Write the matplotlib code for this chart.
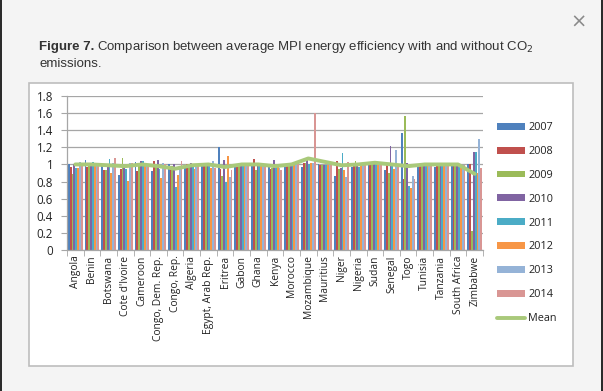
import numpy as np
import matplotlib.pyplot as plt
from matplotlib.patches import Rectangle

# --- data ---
countries = ["Angola", "Benin", "Botswana", "Cote d'Ivoire", "Cameroon",
             "Congo, Dem. Rep.", "Congo, Rep.", "Algeria", "Egypt, Arab Rep.",
             "Eritrea", "Gabon", "Ghana", "Kenya", "Morocco", "Mozambique",
             "Mauritius", "Niger", "Nigeria", "Sudan", "Senegal", "Togo",
             "Tunisia", "Tanzania", "South Africa", "Zimbabwe"]
years = ["2007", "2008", "2009", "2010", "2011", "2012", "2013", "2014"]

v2007 = [1.00, 1.05, 0.98, 0.88, 1.03, 0.92, 1.00, 0.96, 0.98, 1.20, 0.97, 0.99, 0.97,
         0.98, 0.97, 1.01, 0.87, 0.97, 1.02, 0.93, 1.37, 1.00, 0.97, 1.00, 1.00]
v2008 = [0.97, 0.97, 0.94, 0.95, 0.92, 1.04, 0.97, 1.01, 0.99, 0.95, 1.00, 1.06, 0.95,
         0.98, 1.02, 0.99, 1.04, 0.98, 1.03, 0.99, 0.83, 1.00, 1.00, 1.00, 1.00]
v2009 = [0.89, 1.00, 0.93, 1.08, 1.02, 0.97, 0.98, 0.97, 1.00, 0.86, 0.98, 0.93, 0.96,
         0.98, 1.02, 0.99, 0.95, 1.04, 1.00, 0.90, 1.57, 1.00, 1.00, 1.00, 0.22]
v2010 = [1.00, 1.00, 1.00, 0.96, 1.04, 1.05, 1.00, 1.02, 1.02, 1.05, 1.00, 1.00, 1.05,
         0.98, 1.05, 0.99, 0.96, 0.99, 1.03, 1.21, 1.02, 1.00, 1.00, 1.00, 1.15]
v2011 = [0.96, 1.03, 1.06, 0.95, 1.04, 0.95, 0.74, 0.99, 1.02, 0.80, 0.99, 1.02, 0.97,
         0.98, 1.00, 0.99, 1.13, 0.97, 1.04, 0.99, 0.75, 1.01, 1.00, 0.99, 1.14]
v2012 = [0.96, 0.99, 0.90, 0.81, 1.00, 0.84, 0.88, 0.95, 0.96, 1.10, 0.98, 0.98, 1.01,
         0.99, 1.02, 0.99, 0.93, 0.98, 1.00, 0.95, 0.72, 1.00, 1.01, 0.99, 0.90]
v2013 = [1.03, 1.00, 1.02, 1.02, 1.00, 1.02, 0.95, 1.00, 1.04, 0.85, 1.00, 1.00, 0.96,
         1.00, 1.02, 0.99, 0.85, 1.02, 1.00, 1.17, 0.87, 1.00, 1.02, 0.99, 1.30]
v2014 = [0.98, 0.99, 1.08, 1.02, 1.01, 1.01, 1.04, 0.98, 0.96, 0.93, 1.00, 0.98, 0.93,
         1.02, 1.60, 0.99, 1.03, 0.99, 1.00, 0.99, 0.83, 1.00, 0.99, 0.99, 0.96]
mean_vals = [1.00, 1.00, 0.99, 0.98, 1.00, 0.98, 0.95, 0.99, 1.00, 0.97, 1.00, 1.00, 0.98,
             1.00, 1.07, 1.03, 0.99, 1.00, 1.02, 1.00, 0.98, 1.00, 1.00, 1.00, 0.89]

series = [v2007, v2008, v2009, v2010, v2011, v2012, v2013, v2014]
colors = ['#4F81BD', '#C0504D', '#9BBB59', '#8064A2', '#4BACC6', '#F79646', '#95B3D7', '#D99694']

W, H = 603, 391
fig = plt.figure(figsize=(W / 100, H / 100), dpi=100)
fig.patch.set_facecolor('#f4f4f4')

# page frame pieces
fig.add_artist(Rectangle((0, 0), 1.5 / W, 1, transform=fig.transFigure, color='#2b2b2b', lw=0))
fig.add_artist(Rectangle((1 - 2.5 / W, 0), 2.5 / W, 1, transform=fig.transFigure, color='#2b2b2b', lw=0))
fig.add_artist(Rectangle((29 / W, 1 - 366 / H), (573 - 29) / W, (366 - 83) / H,
                         transform=fig.transFigure, facecolor='white', edgecolor='#bdbdbd',
                         lw=1.2, zorder=-10))
fig.text(579 / W, 1 - 22 / H, '\u00d7', fontsize=14, color='#8a8a8a', ha='center', va='center',
         family='DejaVu Sans')

# caption
cap_y = 1 - 47 / H
t1 = fig.text(39 / W, cap_y, 'Figure 7.', fontsize=9.5, fontweight='bold', color='#333333',
              family='Liberation Sans', va='center')
fig.canvas.draw()
bb = t1.get_window_extent(fig.canvas.get_renderer())
fig.text(bb.x1 / W + 3 / W, cap_y, 'Comparison between average MPI energy efficiency with and without CO$_2$',
         fontsize=9.5, color='#333333', family='Liberation Sans', va='center')
fig.text(39 / W, 1 - 64 / H, 'emissions.', fontsize=9.5, color='#333333',
         family='Liberation Sans', va='center')

# chart
ax = fig.add_axes([67 / W, 1 - 250 / H, (483 - 67) / W, (250 - 96) / H])
ax.patch.set_alpha(0)
x = np.arange(len(countries))
group = 0.88
bw = group / len(series)
handles = []
for i, (vals, c, yr) in enumerate(zip(series, colors, years)):
    h = ax.bar(x - group / 2 + bw * (i + 0.5), vals, width=bw, color=c, label=yr, lw=0, zorder=2)
    handles.append(h)
ln, = ax.plot(x, mean_vals, color='#a9c97a', lw=2.8, label='Mean', zorder=3, solid_capstyle='round')
handles.append(ln)

ax.set_xlim(-0.5, len(countries) - 0.5)
ax.set_ylim(0, 1.8)
ax.set_yticks(np.arange(0, 1.81, 0.2))
ax.set_yticklabels(['0', '0.2', '0.4', '0.6', '0.8', '1', '1.2', '1.4', '1.6', '1.8'])
ax.yaxis.grid(True, color='#a6a6a6', lw=0.9, zorder=0)
ax.set_axisbelow(True)
ax.set_xticks(x)
ax.set_xticklabels(countries, rotation=90)
ax.set_xticks(np.arange(-0.5, len(countries), 1), minor=True)
ax.tick_params(axis='x', which='major', length=0, pad=4, labelsize=7.4, labelcolor='#222222')
ax.tick_params(axis='x', which='minor', length=4, color='#a6a6a6')
ax.tick_params(axis='y', length=4, color='#a6a6a6', labelsize=8.3, labelcolor='#222222', pad=6)
for lab in ax.get_xticklabels() + ax.get_yticklabels():
    lab.set_family('Open Sans')
for s in ['top', 'right']:
    ax.spines[s].set_visible(False)
for s in ['left', 'bottom']:
    ax.spines[s].set_color('#a6a6a6')
    ax.spines[s].set_linewidth(0.9)

leg = fig.legend(handles=handles, labels=years + ['Mean'], loc='upper left',
                 bbox_to_anchor=(497 / W, 1 - 122 / H), frameon=False,
                 prop={'family': 'Open Sans', 'size': 7.8}, labelspacing=1.19,
                 handlelength=2.6, handleheight=0.6, handletextpad=0.3, borderpad=0,
                 borderaxespad=0)
for t in leg.get_texts():
    t.set_color('#222222')

fig.savefig('out.png', dpi=100, facecolor=fig.get_facecolor())
